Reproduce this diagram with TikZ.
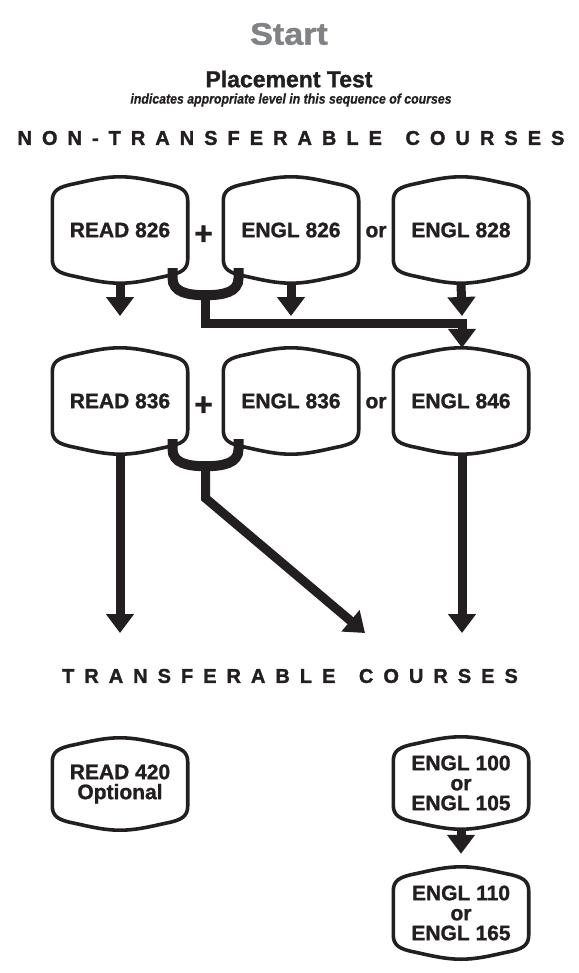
\documentclass[tikz,border=0pt]{standalone}
\usepackage{fontspec}
\setmainfont{Liberation Sans}[BoldFeatures={FakeBold=1.2}]
\newfontfamily\widefont{Liberation Sans}[FakeStretch=1.1, BoldFeatures={FakeBold=1.5}]
\newfontfamily\narrowfont{Liberation Sans}[FakeStretch=0.88, BoldItalicFeatures={FakeBold=0.6}]
\newfontfamily\spacedfont{Liberation Sans}[LetterSpace=50, BoldFeatures={FakeBold=1.5}]
\usetikzlibrary{calc,arrows.meta}
\definecolor{ink}{RGB}{35,31,32}
\definecolor{startgray}{RGB}{128,130,133}

\begin{document}
\begin{tikzpicture}[x=1pt, y=-1pt, draw=ink, text=ink]
\tikzstyle{course}=[rectangle, inner sep=0pt, minimum width=135pt, minimum height=106pt, align=center, font=\fontsize{21}{20}\selectfont\bfseries]
\tikzstyle{short course}=[course, minimum height=92pt]
\tikzstyle{word}=[inner sep=0pt, anchor=base, font=\fontsize{21}{20}\selectfont\bfseries]
\tikzstyle{sign}=[inner sep=0pt, font=\fontsize{32}{32}\selectfont\bfseries]
\tikzstyle{heading}=[inner sep=0pt, font=\fontsize{20}{20}\selectfont\spacedfont\bfseries]
\tikzstyle{frame}=[line width=3.6pt]
\tikzstyle{flow}=[line width=9pt, -{Triangle[width=27pt,length=19pt]}]
\tikzstyle{cup}=[line width=10pt]

\useasboundingbox (0,0) rectangle (578,973);

% Titles
\node[text=startgray, font=\fontsize{31}{31}\selectfont\widefont\bfseries] (start) at (289,34) {Start};
\node[font=\fontsize{23}{23}\selectfont\bfseries] (test) at (289,79) {Placement Test};
\node[font=\fontsize{14}{14}\selectfont\narrowfont\bfseries\itshape] (hint) at (291,100) {indicates appropriate level in this sequence of courses};
\node[heading] (nontrans) at (291,138) {NON-TRANSFERABLE\hspace{8pt} COURSES};
\node[heading] (trans) at (290,676) {TRANSFERABLE\hspace{8pt} COURSES};

% Course boxes
\node[course] (r826) at (120,230) {READ 826};
\node[course] (e826) at (291,230) {ENGL 826};
\node[course] (e828) at (461,230) {ENGL 828};
\node[course] (r836) at (120,401) {READ 836};
\node[course] (e836) at (291,401) {ENGL 836};
\node[course] (e846) at (461,401) {ENGL 846};
\node[short course] (r420) at (120,784) {READ 420\\Optional};
\node[short course] (e100) at (461,783) {ENGL 100\\or\\ENGL 105};
\node[short course] (e110) at (461,913) {ENGL 110\\or\\ENGL 165};

\node[sign] (plus1) at ($(r826.east)!0.5!(e826.west)+(-2,5)$) {+};
\node[word] (or1) at ($(e826.base east)!0.5!(e828.base west)$) {or};
\node[sign] (plus2) at ($(r836.east)!0.5!(e836.west)+(-2,5)$) {+};
\node[word] (or2) at ($(e836.base east)!0.5!(e846.base west)$) {or};

% Box outlines
\foreach \b in {r826,e826,e828,r836,e836,e846,r420,e100,e110}
    \draw[frame] ($(\b.north west)+(0,24)$) .. controls ($(\b.north west)+(0,14)$) and ($(\b.north west)+(6,10)$) .. ($(\b.north west)+(22,7)$)
        .. controls ($(\b.north west)+(40,3)$) and ($(\b.north)+(-15,0)$) .. (\b.north)
        .. controls ($(\b.north)+(15,0)$) and ($(\b.north east)+(-40,3)$) .. ($(\b.north east)+(-22,7)$)
        .. controls ($(\b.north east)+(-6,10)$) and ($(\b.north east)+(0,14)$) .. ($(\b.north east)+(0,24)$)
        -- ($(\b.south east)+(0,-24)$) .. controls ($(\b.south east)+(0,-14)$) and ($(\b.south east)+(-6,-10)$) .. ($(\b.south east)+(-22,-7)$)
        .. controls ($(\b.south east)+(-40,-3)$) and ($(\b.south)+(15,0)$) .. (\b.south)
        .. controls ($(\b.south)+(-15,0)$) and ($(\b.south west)+(40,-3)$) .. ($(\b.south west)+(22,-7)$)
        .. controls ($(\b.south west)+(6,-10)$) and ($(\b.south west)+(0,-14)$) .. ($(\b.south west)+(0,-24)$) -- cycle;

% Free arrow ends
\coordinate (r826end) at (120,316);
\coordinate (e826end) at (291,316);
\coordinate (e828end) at (462,316);
\coordinate (r836end) at (120,633);
\coordinate (pairend) at (365,633);
\coordinate (e846end) at (462,633);

% Junctions under the + pairs
\coordinate (j1) at ($(r826.south east)!0.5!(e826.south west)$);
\coordinate (j2) at ($(r836.south east)!0.5!(e836.south west)$);

\foreach \j in {j1,j2}
    \draw[cup] ($(\j)+(-33,-15)$) -- ++(0,10) .. controls +(0,14) and +(-18,0) .. ($(\j)+(0,12)$)
        .. controls +(18,0) and +(0,14) .. ($(\j)+(33,-5)$) -- ++(0,-10);

% Arrows
\draw[flow] (r826.south) -- (r826end);
\draw[flow] (e826.south) -- (e826end);
\draw[flow] (e828.south) -- (e828end);
\draw[flow] ($(j1)+(0,12)$) -- ($(j1)+(0,40)$) -| ([xshift=1pt]e846.north);

\draw[flow] (r836.south) -- (r836end);
\draw[flow] ($(j2)+(0,12)$) -- ($(j2)+(0,44)$) -- (pairend);
\draw[flow] ([xshift=1pt]e846.south) -- (e846end);

\draw[flow, shorten >=13pt] (e100.south) -- (e110.north);

\end{tikzpicture}
\end{document}
